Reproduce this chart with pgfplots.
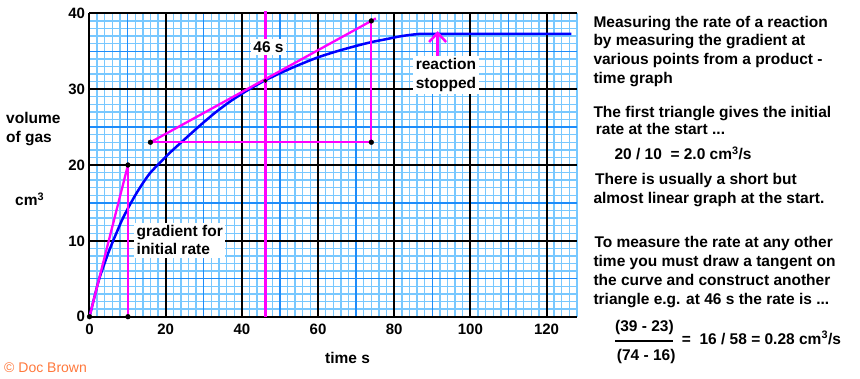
\documentclass[border=0pt]{standalone}
\usepackage{pgfplots}
\pgfplotsset{compat=1.18}
\usetikzlibrary{arrows.meta}
\usepackage{fontspec}
\setmainfont{Liberation Sans}
\definecolor{fineblue}{RGB}{120,200,255}
\definecolor{medblue}{RGB}{30,140,250}
\definecolor{curveblue}{RGB}{0,0,255}
\definecolor{mag}{RGB}{255,0,255}
\definecolor{docorange}{RGB}{255,120,60}
\newcommand{\tf}{\fontsize{15.5}{18.7}\selectfont\bfseries}
\begin{document}
\begin{tikzpicture}[x=1pt,y=1pt]
\useasboundingbox (-89.5,-61.3) rectangle (770.5,316.7);
\pgfplotsset{base/.style={at={(0,0)},anchor=south west,scale only axis,
  width=487.5pt,height=303.4pt,xmin=0,xmax=128,ymin=0,ymax=40,
  axis line style={draw=none},tick style={draw=none},clip=false}}
% fine grid
\begin{axis}[base,xtick={0,2,...,128},ytick={0,1,...,40},grid=major,
  major grid style={fineblue,line width=1.4pt},xticklabel=\empty,yticklabel=\empty]
\end{axis}
% medium grid
\begin{axis}[base,xtick={0,10,...,120},ytick={0,5,...,40},grid=major,
  major grid style={medblue,line width=1.4pt},xticklabel=\empty,yticklabel=\empty]
\end{axis}
% main axis
\begin{axis}[base,xtick={0,20,...,120},ytick={0,10,...,40},grid=major,
  major grid style={black,line width=2pt},
  /pgf/number format/assume math mode=true,
  ticklabel style={font=\fontsize{15}{18}\selectfont\bfseries},
  xticklabel style={yshift=-4pt},
  yticklabel style={xshift=-1pt}]
\addplot[curveblue,line width=2.5pt,smooth,tension=0.4] coordinates {
(0,0)(1,2)(2,4)(2.5,4.9)(3,5.7)(4,7.1)(5,8.5)(6.2,10)(7.3,11.3)(8.5,12.7)(10,14.2)
(12,16.0)(14,17.6)(16,19.0)(18.5,20.3)(21.5,21.8)(25,23.4)(29,25.2)(33,26.9)
(37,28.4)(41,29.7)(45.5,31.0)(50,32.1)(55,33.2)(60,34.2)(65,35.0)(70,35.7)
(74,36.2)(78,36.6)(82,37.0)(86,37.25)(90,37.3)(126.5,37.3)};
\addplot[mag,line width=2.3pt] coordinates {(0,0)(10.1,20)};
\addplot[mag,line width=2.3pt] coordinates {(10.1,20)(10.1,0)};
\addplot[mag,line width=2.3pt] coordinates {(16,23)(75.2,39.33)};
\addplot[mag,line width=2.3pt] coordinates {(16,23)(74,23)(74,39)};
\addplot[mag,line width=2.3pt] coordinates {(46.2,0)(46.2,40.3)};
\addplot[mag,line width=2.5pt,-{Straight Barb[length=9pt,width=17pt]}] coordinates {(91.4,33.9)(91.4,37.65)};
\addplot[only marks,mark=*,mark size=2.4pt,black] coordinates {(0,0)(10.1,0)(10.1,20)(16,23)(74,23)(74,39)};
\addplot[only marks,mark=*,mark size=1.8pt,black] coordinates {(46.2,31.1)};
\node[fill=white,inner sep=2.5pt,font=\tf] at (axis cs:47,35.5) {46 s};
\node[fill=white,inner sep=2.5pt,font=\tf,align=center] at (axis cs:93.6,31.9) {reaction\\stopped};
\node[fill=white,inner sep=2.5pt,font=\tf,align=left] at (axis cs:23.7,10.1) {gradient for\\initial rate};
\end{axis}
% outer labels (pt relative to plot origin: x=px-89.5, y=316.7-py)
\node[anchor=base west,font=\tf,inner sep=0] at (-83.5,192.7) {volume};
\node[anchor=base west,font=\tf,inner sep=0] at (-83.5,174.0) {of gas};
\node[anchor=base west,font=\tf,inner sep=0] at (-74.5,111.0) {cm\textsuperscript{3}};
\node[anchor=base west,font=\tf,inner sep=0] at (235.5,-46.6) {time s};
\node[anchor=base west,font=\fontsize{14}{16}\selectfont,text=docorange,inner sep=0] at (-85.5,-55.6) {\textcopyright{} Doc Brown};
% right text
\node[anchor=base west,font=\tf,inner sep=0] at (503.8,289.4) {Measuring the rate of a reaction};
\node[anchor=base west,font=\tf,inner sep=0] at (503.8,270.7) {by measuring the gradient at};
\node[anchor=base west,font=\tf,inner sep=0] at (503.8,251.7) {various points from a product -};
\node[anchor=base west,font=\tf,inner sep=0] at (503.8,233.2) {time graph};
\node[anchor=base west,font=\tf,inner sep=0] at (503.8,199.4) {The first triangle gives the initial};
\node[anchor=base west,font=\tf,inner sep=0] at (506.2,181.7) {rate at the start ...};
\node[anchor=base west,font=\tf,inner sep=0] at (524.8,157.4) {20 / 10 \ = 2.0 cm\textsuperscript{3}/s};
\node[anchor=base west,font=\tf,inner sep=0] at (505.5,131.7) {There is usually a short but};
\node[anchor=base west,font=\tf,inner sep=0] at (503.8,113.4) {almost linear graph at the start.};
\node[anchor=base west,font=\tf,inner sep=0] at (504.8,69.0) {To measure the rate at any other};
\node[anchor=base west,font=\tf,inner sep=0] at (503.8,50.0) {time you must draw a tangent on};
\node[anchor=base west,font=\tf,inner sep=0] at (503.8,31.7) {the curve and construct another};
\node[anchor=base west,font=\tf,inner sep=0] at (503.8,12.7) {triangle e.g. at 46 s the rate is ...};
\node[anchor=base west,font=\tf,inner sep=0] at (525.5,-15.0) {(39 - 23)};
\draw[line width=1.5pt] (525.5,-24.3) -- (583.2,-24.3);
\node[anchor=base west,font=\tf,inner sep=0] at (527.2,-43.3) {(74 - 16)};
\node[anchor=base west,font=\tf,inner sep=0] at (592.2,-27.3) {= \ 16 / 58 = 0.28 cm\textsuperscript{3}/s};
\end{tikzpicture}
\end{document}
